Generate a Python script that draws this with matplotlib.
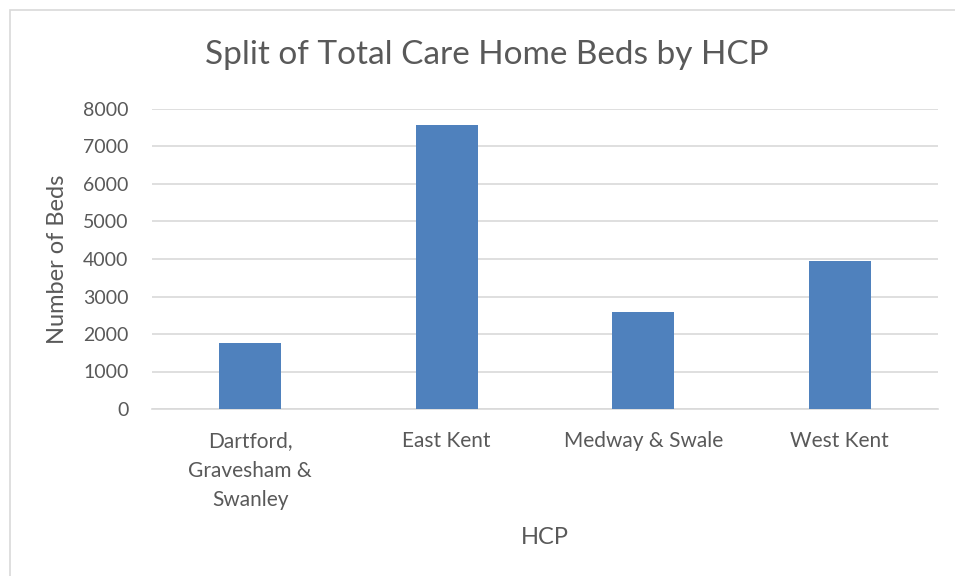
import matplotlib.pyplot as plt
from matplotlib.patches import Rectangle

plt.rcParams['font.family'] = ['Lato', 'DejaVu Sans']

hcp = ["Dartford,\nGravesham &\nSwanley", "East Kent", "Medway & Swale", "West Kent"]
beds = [1770, 7570, 2590, 3960]
yticks = [0, 1000, 2000, 3000, 4000, 5000, 6000, 7000, 8000]

grey = "#595959"
W, H = 955, 576

fig = plt.figure(figsize=(W / 100, H / 100), dpi=100)
# light chart border like the spreadsheet chart frame
fig.patches.append(Rectangle((10 / W, -0.1), 1.1, (H - 10) / H + 0.1,
                             transform=fig.transFigure, fill=False,
                             edgecolor="#d9d9d9", linewidth=1.2))

ax = fig.add_axes([152 / W, 1 - 409 / H, (938 - 152) / W, 300 / H])
x = range(len(hcp))
ax.bar(x, beds, width=0.315, color="#4f81bd", zorder=3)

ax.set_xlim(-0.5, len(hcp) - 0.5)
ax.set_ylim(0, 8000)
ax.set_yticks(yticks)
ax.set_yticklabels([str(v) for v in yticks])
ax.set_xticks(list(x))
ax.set_xticklabels(hcp, linespacing=1.58)
ax.grid(axis="y", color="#d9d9d9", linewidth=1.2, zorder=0)
for s in ["top", "right", "left"]:
    ax.spines[s].set_visible(False)
ax.spines["bottom"].set_color("#d9d9d9")
ax.spines["bottom"].set_linewidth(1.2)
ax.tick_params(length=0, colors=grey)
ax.tick_params(axis="x", labelsize=15, pad=16)
ax.tick_params(axis="y", labelsize=14, pad=17)

fig.text(487 / W, 1 - 55 / H, "Split of Total Care Home Beds by HCP",
         fontsize=24, color=grey, ha="center", va="center")
ax.set_xlabel("HCP", fontsize=17, color=grey, va="center")
ax.xaxis.set_label_coords(0.5, (409 - 538) / 300)
ax.set_ylabel("Number of Beds", fontsize=17, color=grey, va="center")
ax.yaxis.set_label_coords((58 - 152) / 786, 0.5)

fig.savefig("out.png", dpi=100)
